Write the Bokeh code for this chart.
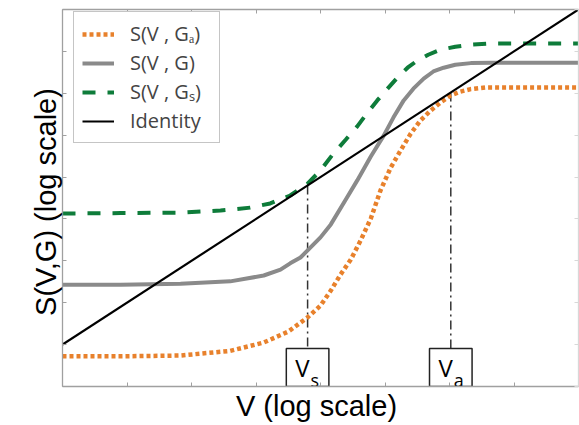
from bokeh.plotting import figure
from bokeh.models import LinearAxis, FixedTicker, Legend, LegendItem, Range1d, CustomJSTickFormatter
from bokeh.core.properties import value
from bokeh.embed import file_html
from bokeh.resources import INLINE

# ---- data (log-scale units) ----
ga_v = [0.0, 0.90, 1.83, 2.60, 3.12, 3.50, 3.80, 4.00, 4.16, 4.31, 4.47, 4.62, 4.78, 4.93,
        5.09, 5.24, 5.40, 5.55, 5.71, 5.86, 6.02, 6.17, 6.33, 6.56, 8.0]
ga_s = [-0.28, -0.28, -0.26, -0.15, 0.05, 0.31, 0.65, 0.93, 1.29, 1.67, 2.03, 2.48, 3.01, 3.68,
        4.23, 4.63, 5.04, 5.35, 5.59, 5.78, 5.95, 6.04, 6.10, 6.14, 6.14]

g_v = [0.0, 0.90, 1.83, 2.60, 3.12, 3.38, 3.53, 3.69, 3.80, 4.00, 4.16, 4.39, 4.57, 4.78,
       4.98, 5.13, 5.29, 5.44, 5.60, 5.75, 5.91, 6.09, 6.33, 6.64, 8.0]
g_s = [1.43, 1.43, 1.45, 1.51, 1.65, 1.79, 1.94, 2.08, 2.25, 2.56, 2.87, 3.46, 3.92, 4.49,
       4.99, 5.42, 5.83, 6.11, 6.35, 6.52, 6.61, 6.68, 6.72, 6.73, 6.73]

gs_v = [0.0, 0.90, 1.83, 2.45, 2.91, 3.22, 3.53, 3.80, 4.00, 4.20, 4.39, 4.57, 4.73, 4.88,
        5.04, 5.19, 5.35, 5.50, 5.67, 5.86, 6.09, 6.33, 6.64, 8.0]
gs_s = [3.13, 3.14, 3.15, 3.20, 3.27, 3.37, 3.56, 3.84, 4.16, 4.56, 4.89, 5.21, 5.54, 5.83,
        6.11, 6.37, 6.61, 6.78, 6.92, 7.04, 7.11, 7.16, 7.19, 7.19]

id_v = [0.0, 8.0]
id_s = [0.0, 8.0]

marker_sub = ["s", "a"]
marker_v = [3.80, 6.02]

legend_labels = ["S(V , G\u2090)", "S(V , G)", "S(V , G\u209b)", "Identity"]

x_ticks = [0, 1, 2, 3, 4, 5, 6, 7, 8]
y_ticks = [-1, 0, 1, 2, 3, 4, 5, 6, 7, 8]

# ---- figure ----
p = figure(width=579, height=425, x_range=Range1d(0, 8), y_range=Range1d(-1, 8),
           output_backend="svg", toolbar_location=None,
           min_border_left=62, min_border_right=1, min_border_top=9, min_border_bottom=39,
           x_axis_label="V  (log scale)", y_axis_label="S(V,G)  (log scale)")
p.grid.visible = False
p.outline_line_color = None
p.background_fill_color = "white"


def style_axis(ax, ticks, color="#a0a0a0"):
    ax.ticker = FixedTicker(ticks=ticks)
    ax.formatter = CustomJSTickFormatter(code="return ''")
    ax.major_label_text_font_size = "0px"
    ax.major_label_standoff = 0
    ax.major_tick_in = 4
    ax.major_tick_out = 0
    ax.minor_tick_in = 0
    ax.minor_tick_out = 0
    ax.axis_line_color = color
    ax.axis_line_width = 1.3
    ax.major_tick_line_color = color
    ax.axis_label_text_font = "Liberation Sans"
    ax.axis_label_text_font_style = "normal"
    ax.axis_label_text_font_size = "29px"
    ax.axis_label_text_color = "black"


style_axis(p.xaxis[0], x_ticks)
style_axis(p.yaxis[0], y_ticks)
p.xaxis[0].axis_label_standoff = 3
p.yaxis[0].axis_label_standoff = 1

top = LinearAxis()
style_axis(top, x_ticks)
p.add_layout(top, "above")
right = LinearAxis()
style_axis(right, y_ticks, color="#d8d8d8")
p.add_layout(right, "right")

# ---- markers V_s, V_a (drawn first, under curves) ----
BOX_W = 0.66
BOX_H = 0.91
y_bottom = -1
LABEL_MID = 0.45      # middle of "V" above the axis (data units)
SUB_MID = 0.15        # middle of the subscript
p.segment(x0=marker_v, y0=marker_v, x1=marker_v, y1=[y_bottom + BOX_H] * 2,
          line_color="#333333", line_width=1.5, line_dash="9 4 2 4")
p.rect(x=marker_v, y=[y_bottom + BOX_H / 2] * 2, width=BOX_W, height=BOX_H,
       fill_color="white", line_color="#222222", line_width=1.5)
p.text(x=marker_v, y=[y_bottom + LABEL_MID] * 2, text=["V", "V"], x_offset=2,
       text_align="right", text_baseline="middle",
       text_font=value("Open Sans"), text_font_size="24px", text_color="black")
p.text(x=marker_v, y=[y_bottom + SUB_MID] * 2, text=marker_sub, x_offset=3,
       text_align="left", text_baseline="middle",
       text_font=value("Open Sans"), text_font_size="18px", text_color="black")

# ---- curves ----
r_ga = p.line(ga_v, ga_s, line_color="#E8812C", line_width=4.5, line_dash="4 3")
r_g = p.line(g_v, g_s, line_color="#8a8a8a", line_width=4)
r_gs = p.line(gs_v, gs_s, line_color="#0E7C3A", line_width=4, line_dash="13 12")
r_id = p.line(id_v, id_s, line_color="black", line_width=2.2)

legend = Legend(items=[LegendItem(label=legend_labels[0], renderers=[r_ga]),
                       LegendItem(label=legend_labels[1], renderers=[r_g]),
                       LegendItem(label=legend_labels[2], renderers=[r_gs]),
                       LegendItem(label=legend_labels[3], renderers=[r_id])],
                location=(11, 243), margin=0, padding=8, spacing=2,
                glyph_width=32, glyph_height=26, label_height=26, label_width=81,
                label_standoff=16,
                label_text_font="Open Sans", label_text_font_size="20px",
                border_line_color="#8c8c8c", border_line_width=1.2,
                background_fill_color="white", background_fill_alpha=1)
p.add_layout(legend, "center")

open("out.html", "w").write(file_html(p, INLINE))
